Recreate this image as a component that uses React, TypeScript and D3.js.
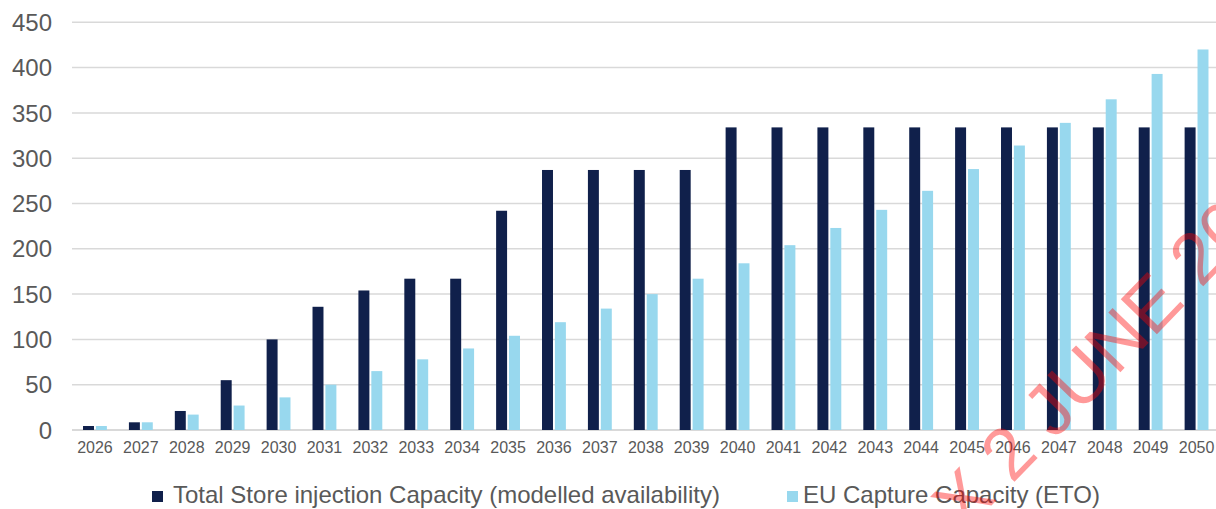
import React from "react";
import * as d3 from "d3";

// Capacity series, Mt CO2 per year
const years = [
  "2026", "2027", "2028", "2029", "2030", "2031", "2032", "2033", "2034",
  "2035", "2036", "2037", "2038", "2039", "2040", "2041", "2042", "2043",
  "2044", "2045", "2046", "2047", "2048", "2049", "2050",
];
const storeCapacity = [
  4.4, 8.5, 21, 55, 100, 136, 154, 167, 167, 242, 287, 287, 287, 287,
  334, 334, 334, 334, 334, 334, 334, 334, 334, 334, 334,
];
const captureCapacity = [
  4.4, 8.5, 17, 27, 36, 50, 65, 78, 90, 104, 119, 134, 150, 167, 184,
  204, 223, 243, 264, 288, 314, 339, 365, 393, 420,
];
const yTicks = [0, 50, 100, 150, 200, 250, 300, 350, 400, 450];
const seriesNames = [
  "Total Store injection Capacity (modelled availability)",
  "EU Capture Capacity (ETO)",
];
const watermarkText = "X 2 JUNE 2025";

const W = 1216;
const H = 509;
const FONT = "'Liberation Sans', Arial, Helvetica, sans-serif";
const NAVY = "#10204B";
const SKY = "#98D8EE";
const GRID = "#D9D9D9";
const LABEL = "#595959";

export default function App() {
  const y = d3.scaleLinear().domain([0, 450]).range([430, 22.3]);
  const x = d3
    .scaleBand<string>()
    .domain(years)
    .range([72, 1219.5])
    .paddingInner(0.48)
    .paddingOuter(0.24);
  const keys = ["store", "capture"];
  const xs = d3
    .scaleBand<string>()
    .domain(keys)
    .range([0, x.bandwidth()])
    .paddingInner(0.15);
  const colors: Record<string, string> = { store: NAVY, capture: SKY };
  const rows = years.map((yr, i) => ({
    year: yr,
    store: storeCapacity[i],
    capture: captureCapacity[i],
  }));

  return (
    <div style={{ position: "fixed", left: 0, top: 0, width: W, height: H, background: "#fff" }}>
      <svg width={W} height={H} style={{ display: "block" }} fontFamily={FONT}>
        <rect width={W} height={H} fill="#fff" />
        {/* gridlines and value axis */}
        {yTicks.map((t) => (
          <g key={t}>
            <line x1={72} x2={W} y1={y(t)} y2={y(t)} stroke={GRID} strokeWidth={t === 0 ? 2 : 1.5} />
            <text x={52} y={y(t)} dy="0.36em" textAnchor="end" fontSize={24} fill={LABEL}>
              {t}
            </text>
          </g>
        ))}
        {/* grouped bars */}
        {rows.map((r) => (
          <g key={r.year} transform={`translate(${x(r.year)},0)`}>
            {keys.map((k) => {
              const v = (r as any)[k] as number;
              return (
                <rect
                  key={k}
                  x={xs(k)}
                  y={y(v)}
                  width={xs.bandwidth()}
                  height={y(0) - y(v)}
                  fill={colors[k]}
                />
              );
            })}
          </g>
        ))}
        {/* category labels */}
        {years.map((yr) => (
          <text
            key={yr}
            x={(x(yr) as number) + x.bandwidth() / 2}
            y={453}
            textAnchor="middle"
            fontSize={16}
            fill={LABEL}
          >
            {yr}
          </text>
        ))}
        {/* legend */}
        <rect x={152} y={491} width={11} height={11} fill={NAVY} />
        <text x={173} y={503} fontSize={24} fill={LABEL}>
          {seriesNames[0]}
        </text>
        <rect x={787} y={491} width={11} height={11} fill={SKY} />
        <text x={803} y={503} fontSize={24} fill={LABEL}>
          {seriesNames[1]}
        </text>
        {/* watermark */}
        <text
          transform="translate(964,534) rotate(-46)"
          fontSize={73}
          fill="#FF0000"
          fillOpacity={0.4}
        >
          {watermarkText}
        </text>
      </svg>
    </div>
  );
}
